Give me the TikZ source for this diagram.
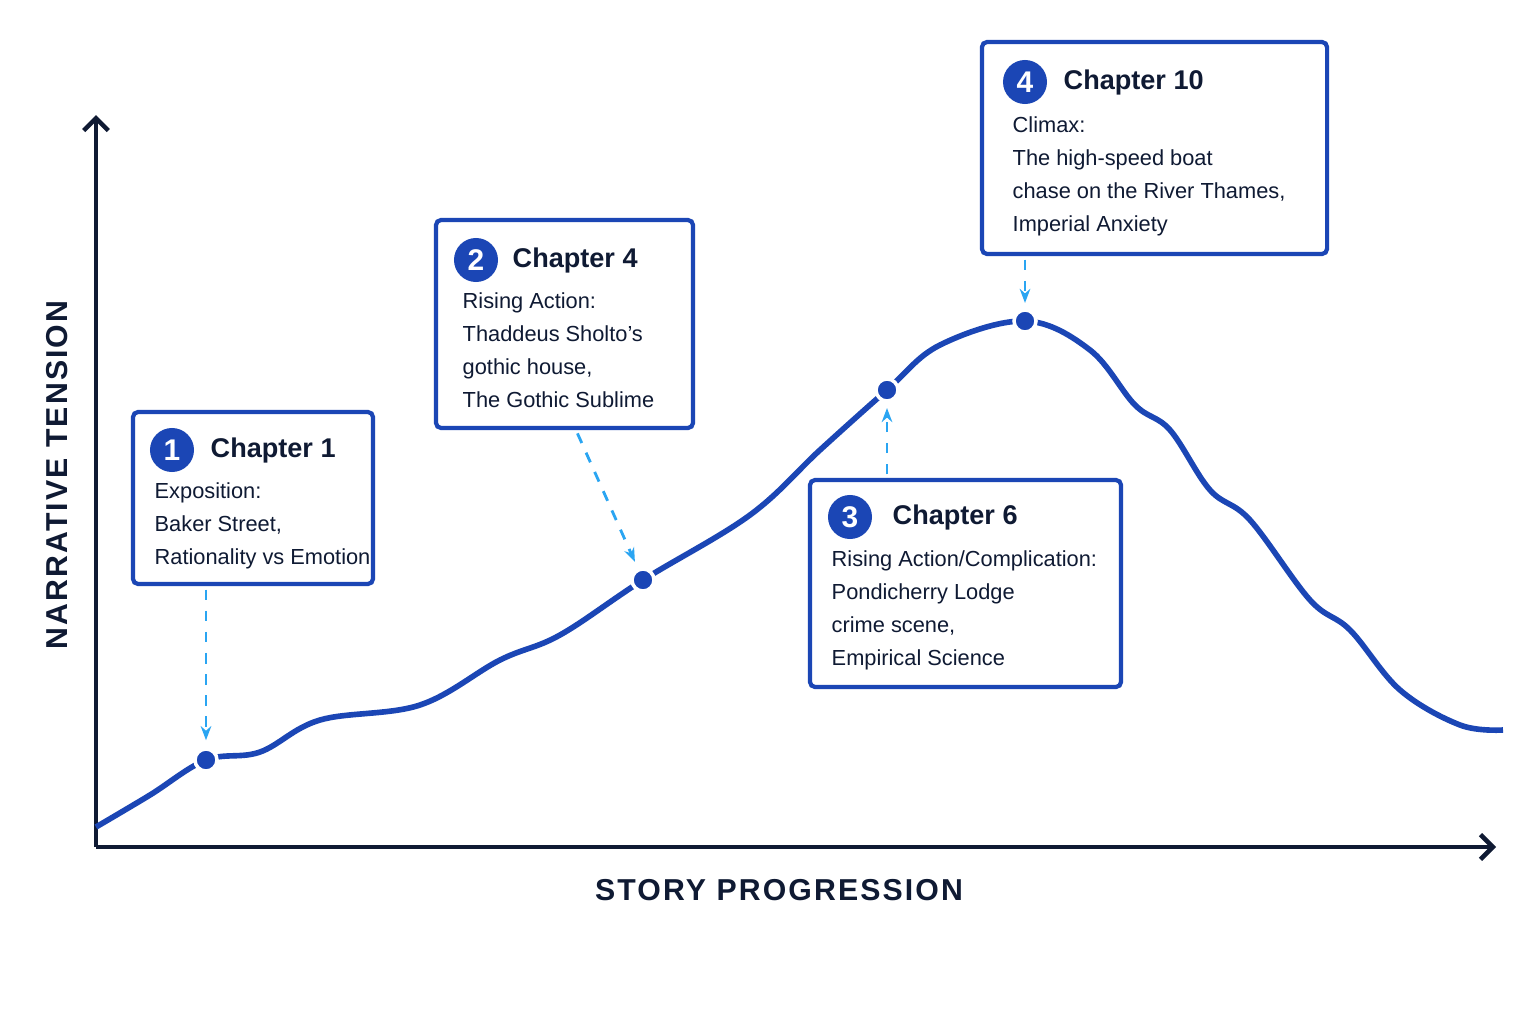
\documentclass[tikz,border=0pt]{standalone}
\usepackage{fontspec}
\setmainfont{Liberation Sans}
\newfontfamily\axisfont[LetterSpace=7]{Liberation Sans}
\usetikzlibrary{positioning,arrows.meta}
\definecolor{navy}{HTML}{0F1A33}
\definecolor{royal}{HTML}{1B46B5}
\definecolor{sky}{HTML}{2AA5F2}
\tikzstyle{card}  = [draw=royal, line width=1.2pt, rounded corners=1.5pt, fill=white]
\tikzstyle{badge} = [circle, fill=royal, text=white, minimum size=0.44cm, inner sep=0pt, font=\fontsize{8.5}{9}\selectfont\bfseries]
\tikzstyle{head}  = [anchor=west, inner sep=0pt, text=navy, font=\fontsize{7.7}{9}\selectfont\bfseries]
\tikzstyle{body}  = [anchor=north west, inner sep=0pt, align=left, text=navy, font=\fontsize{6.2}{9.4}\selectfont]
\tikzstyle{hint}  = [sky, dashed, line width=0.8pt, -{Stealth[length=4pt]}]

\begin{document}
\begin{tikzpicture}[x=0.01cm, y=-0.01cm,
			dot/.style={circle, fill=royal, draw=white, line width=1pt, minimum size=0.22cm, inner sep=0pt}]
		\useasboundingbox[fill=white] (0,0) rectangle (1536,1024);

		% axes
		\coordinate (o) at (96,847);
		\draw[navy, line width=1.3pt, -{Straight Barb[length=3.5pt]}] (o) -- (96,115);
		\draw[navy, line width=1.3pt, -{Straight Barb[length=3.5pt]}] (o) -- (1496,847);
		\node[rotate=90, text=navy, font=\axisfont\fontsize{8.6}{10}\selectfont\bfseries] (ylab) at (57,475) {NARRATIVE TENSION};
		\node[text=navy, font=\axisfont\fontsize{8.6}{10}\selectfont\bfseries] (xlab) at (779,890) {STORY PROGRESSION};

		% tension curve
		\draw[royal, line width=1.6pt] plot[smooth, tension=0.6] coordinates {
			(96,827) (150,795) (206,760) (260,752) (320,720) (420,705) (500,660)
			(560,635) (643,580) (750,515) (820,450) (887,390) (940,345) (1025,321)
			(1090,350) (1135,405) (1170,430) (1210,490) (1250,520) (1310,600)
			(1350,630) (1400,690) (1460,725) (1503,730)};

		\node[dot] (d1) at (206,760) {};
		\node[dot] (d2) at (643,580) {};
		\node[dot] (d3) at (887,390) {};
		\node[dot] (d4) at (1025,321) {};

		% chapter cards
		\node[card, minimum width=2.40cm, minimum height=1.72cm] (b1) at (253,498) {};
		\node[badge] (n1) at (172,450) {1};
		\node[head] (t1) at (210,450) {Chapter 1};
		\node[body] (x1) at (154,482) {Exposition:\\Baker Street,\\Rationality vs Emotion};

		\node[card, minimum width=2.57cm, minimum height=2.08cm] (b2) at (564.5,324) {};
		\node[badge] (n2) at (476,260) {2};
		\node[head] (t2) at (512,260) {Chapter 4};
		\node[body] (x2) at (462,292) {Rising Action:\\Thaddeus Sholto’s\\gothic house,\\The Gothic Sublime};

		\node[card, minimum width=3.11cm, minimum height=2.07cm] (b3) at (965.5,583.5) {};
		\node[badge] (n3) at (850,517) {3};
		\node[head] (t3) at (892,517) {Chapter 6};
		\node[body] (x3) at (831,550) {Rising Action/Complication:\\Pondicherry Lodge\\crime scene,\\Empirical Science};

		\node[card, minimum width=3.45cm, minimum height=2.12cm] (b4) at (1154.5,148) {};
		\node[badge] (n4) at (1025,82) {4};
		\node[head] (t4) at (1063,82) {Chapter 10};
		\node[body] (x4) at (1012,116) {Climax:\\The high-speed boat\\chase on the River Thames,\\Imperial Anxiety};

		% pointers
		\draw[hint, shorten <=1pt, shorten >=2pt] (b1.south -| d1) -- (d1);
		\draw[hint, shorten <=1pt, shorten >=2pt] ([xshift=0.115cm]b2.south) -- (d2);
		\draw[hint, shorten <=1pt, shorten >=1.5pt] (b3.north -| d3) -- (d3);
		\draw[hint, shorten <=1pt, shorten >=1.5pt] (b4.south -| d4) -- (d4);
	\end{tikzpicture}
\end{document}
